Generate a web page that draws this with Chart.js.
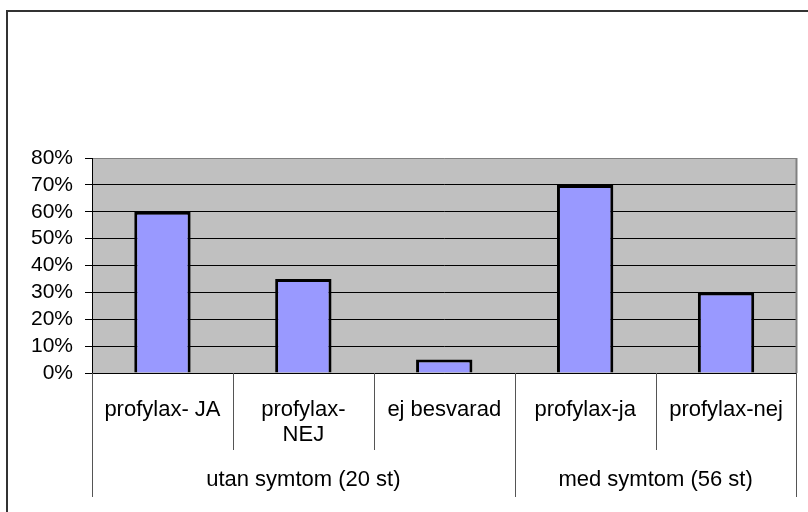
<!DOCTYPE html>
<html>
<head>
<meta charset="utf-8">
<script src="https://cdn.jsdelivr.net/npm/chart.js@4"></script>
<style>
  body { margin: 0; background: #fff; }
  #wrap { width: 808px; height: 512px; }
</style>
</head>
<body>
<div id="wrap"><canvas id="chart" width="808" height="512"></canvas></div>
<script>
const categories = ['profylax- JA', ['profylax-', 'NEJ'], 'ej besvarad', 'profylax-ja', 'profylax-nej'];
const values = [60, 35, 5, 70, 30];
const groups = ['utan symtom (20 st)', 'med symtom (56 st)'];
const groupSizes = [3, 2];
const yTicks = [0, 10, 20, 30, 40, 50, 60, 70, 80];

const font = { family: '"Liberation Sans", Arial, sans-serif', size: 22, lineHeight: 1.14 };

// gray plot background, plot frame, outer frame, category separators and group labels
const decor = {
    id: 'decor',
    beforeDraw(chart) {
        const { ctx, chartArea: a } = chart;
        ctx.save();
        ctx.fillStyle = '#C0C0C0';
        ctx.fillRect(a.left, a.top, a.right - a.left, a.bottom - a.top);
        ctx.strokeStyle = '#333';
        ctx.lineWidth = 2;
        ctx.beginPath();
        ctx.moveTo(7, 600);
        ctx.lineTo(7, 11);
        ctx.lineTo(900, 11);
        ctx.stroke();
        ctx.restore();
    },
    afterDraw(chart) {
        const { ctx, chartArea: a } = chart;
        const x = chart.scales.x;
        const step = x.getPixelForValue(1) - x.getPixelForValue(0);
        const start = x.getPixelForValue(0) - step / 2;
        ctx.save();
        // right border of plot
        ctx.strokeStyle = '#808080';
        ctx.lineWidth = 2;
        ctx.beginPath();
        ctx.moveTo(a.right, a.top);
        ctx.lineTo(a.right, a.bottom);
        ctx.stroke();

        const groupEdges = [0];
        groupSizes.forEach(s => groupEdges.push(groupEdges[groupEdges.length - 1] + s));
        ctx.strokeStyle = '#555';
        ctx.lineWidth = 1;
        for (let i = 0; i <= categories.length; i++) {
            const px = Math.round(start + i * step) + 0.5;
            const end = groupEdges.includes(i) ? 497 : 450;
            ctx.beginPath();
            ctx.moveTo(px, a.bottom);
            ctx.lineTo(px, end);
            ctx.stroke();
        }
        ctx.fillStyle = '#000';
        ctx.font = font.size + 'px ' + font.family;
        ctx.textAlign = 'center';
        ctx.textBaseline = 'middle';
        groups.forEach((g, i) => {
            const cx = start + (groupEdges[i] + groupEdges[i + 1]) / 2 * step;
            ctx.fillText(g, cx, 480);
        });
        ctx.restore();
    }
};

new Chart(document.getElementById('chart'), {
    type: 'bar',
    data: {
        labels: categories,
        datasets: [{
            data: values,
            backgroundColor: '#9999FF',
            borderColor: '#000',
            borderWidth: 3,
            barPercentage: 0.4,
            categoryPercentage: 1
        }]
    },
    plugins: [decor],
    options: {
        responsive: false,
        animation: false,
        devicePixelRatio: 1,
        layout: { padding: { top: 158, right: 11, left: 0, bottom: 0 } },
        plugins: {
            legend: { display: false },
            tooltip: { enabled: false }
        },
        scales: {
            x: {
                offset: true,
                grid: { display: false, drawTicks: false },
                border: { display: true, color: '#000', width: 1 },
                ticks: {
                    color: '#000',
                    font: font,
                    padding: 24,
                    maxRotation: 0,
                    autoSkip: false
                },
                afterFit(scale) { scale.height = 139; }
            },
            y: {
                min: 0,
                max: 80,
                afterBuildTicks(scale) { scale.ticks = yTicks.map(v => ({ value: v })); },
                grid: {
                    color: c => (c.tick && c.tick.value === 80 ? '#808080' : '#000'),
                    tickColor: '#000',
                    tickLength: 7
                },
                border: { display: true, color: '#000', width: 1 },
                ticks: {
                    color: '#000',
                    font: { family: font.family, size: 21 },
                    padding: 12,
                    autoSkip: false,
                    callback: v => v + '%'
                },
                afterFit(scale) { scale.width = 92; }
            }
        }
    }
});
</script>
</body>
</html>
